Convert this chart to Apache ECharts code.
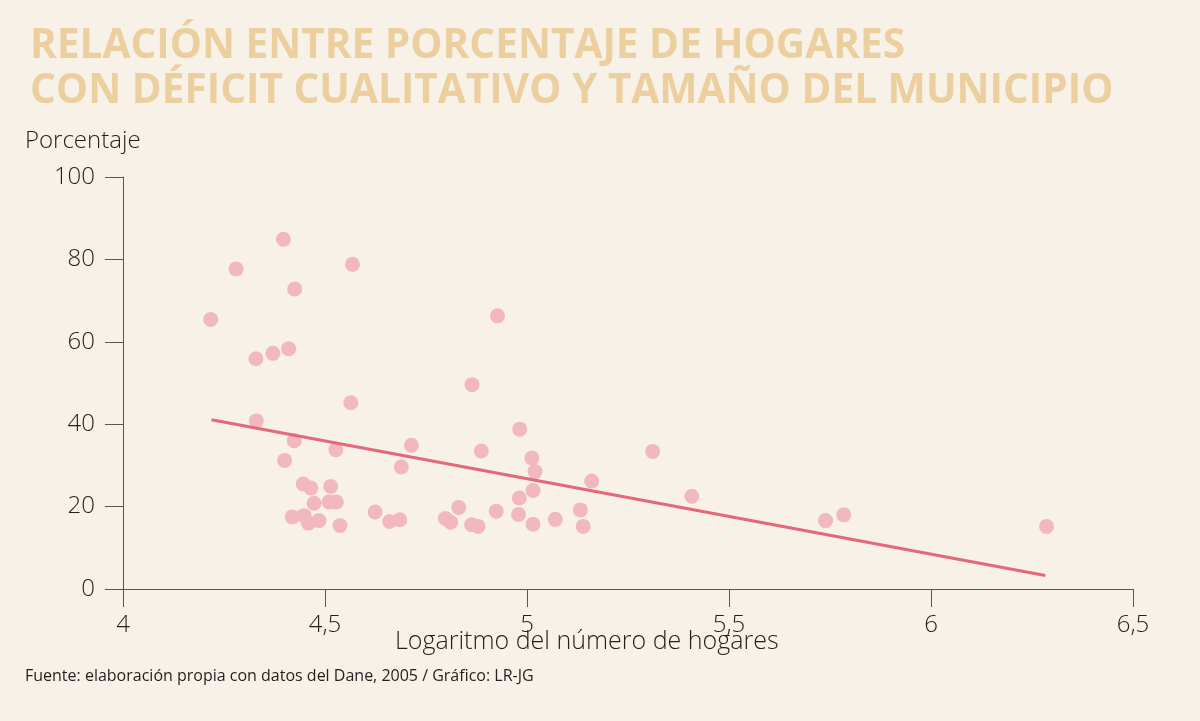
<!DOCTYPE html>
<html>
<head>
<meta charset="utf-8">
<script src="https://cdn.jsdelivr.net/npm/echarts@6/dist/echarts.min.js"></script>
<style>
  html, body { margin: 0; padding: 0; background: #f8f1e7; }
  #grafico { width: 1200px; height: 721px; }
</style>
</head>
<body>
<div id="grafico"></div>
<script>
// logaritmo del numero de hogares (x) y porcentaje con deficit cualitativo (y)
var logHogares = [
  4.397, 4.280, 4.568, 4.425, 4.217, 4.329, 4.371, 4.410, 4.564, 4.330,
  4.424, 4.527, 4.714, 4.400, 4.689, 4.446, 4.465, 4.514, 4.473, 4.510,
  4.528, 4.624, 4.419, 4.448, 4.459, 4.485, 4.537, 4.660, 4.685, 4.927,
  4.864, 4.982, 4.887, 5.311, 5.012, 5.020, 5.160, 5.015, 4.981, 5.408,
  4.831, 4.924, 5.132, 4.979, 4.798, 4.811, 4.863, 4.879, 5.015, 5.070,
  5.139, 5.739, 5.784, 6.286
];
var porcentaje = [
  84.9, 77.7, 78.8, 72.8, 65.4, 55.9, 57.2, 58.3, 45.2, 40.8,
  36.0, 33.8, 34.9, 31.2, 29.6, 25.5, 24.5, 24.9, 20.8, 21.1,
  21.1, 18.7, 17.5, 17.8, 16.0, 16.6, 15.4, 16.4, 16.8, 66.3,
  49.6, 38.8, 33.5, 33.4, 31.8, 28.5, 26.2, 23.9, 22.1, 22.5,
  19.8, 18.9, 19.2, 18.1, 17.1, 16.2, 15.6, 15.2, 15.7, 16.9,
  15.2, 16.6, 18.0, 15.2
];
// linea de tendencia (extremos)
var tendenciaX = [4.219, 6.283];
var tendenciaY = [41.1, 3.3];

var titulo1 = "RELACIÓN ENTRE PORCENTAJE DE HOGARES";
var titulo2 = "CON DÉFICIT CUALITATIVO Y TAMAÑO DEL MUNICIPIO";

var puntos = logHogares.map(function (x, i) { return [x, porcentaje[i]]; });
var tendencia = tendenciaX.map(function (x, i) { return [x, tendenciaY[i]]; });

var fuente = "'Open Sans', 'Noto Sans', sans-serif";
var fuenteTitulo = "bold 42px 'Open Sans', sans-serif";
var texto = "#231f20";
var eje = "#5a5657";

// el titulo original es condensado: se estrecha horizontalmente
var ctx = document.createElement("canvas").getContext("2d");
ctx.font = fuenteTitulo;
var escala = 875 / ctx.measureText(titulo1).width;

echarts.init(document.querySelector("#grafico")).setOption({
  animation: false,
  backgroundColor: "#f8f1e7",
  grid: { left: 123, right: 67, top: 177, bottom: 132 },
  xAxis: {
    type: "value",
    min: 4, max: 6.5, interval: 0.5,
    axisLine: { lineStyle: { color: eje, width: 1 } },
    axisTick: { show: true, length: 18, lineStyle: { color: eje } },
    splitLine: { show: false },
    axisLabel: {
      margin: 24, fontSize: 24, color: texto, fontFamily: fuente, fontWeight: 300,
      formatter: function (v) { return String(v).replace(".", ","); }
    }
  },
  yAxis: {
    type: "value",
    min: 0, max: 100, interval: 20,
    axisLine: { show: true, lineStyle: { color: eje, width: 1 } },
    axisTick: { show: true, length: 18, lineStyle: { color: eje } },
    splitLine: { show: false },
    axisLabel: { margin: 28, fontSize: 24, color: texto, fontFamily: fuente, fontWeight: 300 }
  },
  series: [
    {
      name: "Municipios",
      type: "scatter",
      symbolSize: 15,
      itemStyle: { color: "#f1b8bf", opacity: 1 },
      data: puntos
    },
    {
      name: "Tendencia",
      type: "line",
      symbol: "none",
      lineStyle: { color: "#e5677b", width: 3 },
      data: tendencia,
      z: 3
    }
  ],
  graphic: [
    { type: "text", x: 30, y: 25, scaleX: escala,
      style: { text: titulo1, fill: "#ebcf9f", font: fuenteTitulo } },
    { type: "text", x: 30, y: 70, scaleX: escala,
      style: { text: titulo2, fill: "#ebcf9f", font: fuenteTitulo } },
    { type: "text", left: 25, top: 129,
      style: { text: "Porcentaje", fill: texto, font: "300 24px " + fuente } },
    { type: "text", left: 395, top: 629,
      style: { text: "Logaritmo del número de hogares", fill: texto, font: "300 25px " + fuente } },
    { type: "text", left: 25, top: 668,
      style: { text: "Fuente: elaboración propia con datos del Dane, 2005 / Gráfico: LR-JG", fill: texto, font: "16px " + fuente } }
  ]
});
</script>
</body>
</html>
